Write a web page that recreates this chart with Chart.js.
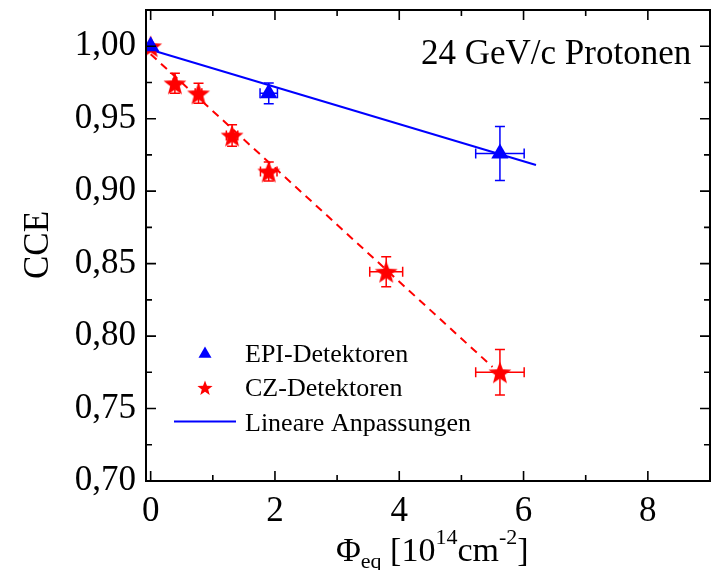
<!DOCTYPE html>
<html>
<head>
<meta charset="utf-8">
<script src="https://cdn.jsdelivr.net/npm/chart.js@4/dist/chart.umd.min.js"></script>
<style>
  html, body { margin: 0; padding: 0; background: #fff; overflow: hidden; }
</style>
</head>
<body>
<canvas id="chart" width="720" height="570"></canvas>
<script>
// values
const epiFluence = [0, 1.9, 5.62];
const epiCCE = [1.000, 0.9675, 0.926];
const epiFluenceErr = [0, 0.14, 0.39];
const epiCCEErr = [0, 0.0072, 0.0186];

const czFluence = [0, 0.39, 0.77, 1.31, 1.9, 3.79, 5.62];
const czCCE = [1.000, 0.9744, 0.9675, 0.9384, 0.9136, 0.8444, 0.775];
const czFluenceErr = [0, 0.027, 0.054, 0.092, 0.133, 0.265, 0.39];
const czCCEErr = [0, 0.0069, 0.0069, 0.0075, 0.0066, 0.0103, 0.0157];

const epiFitX = [0, 6.2];
const epiFitY = [0.9976, 0.918];
const czFitX = [0, 5.5];
const czFitY = [0.9945, 0.7787];

const xTicks = [0, 2, 4, 6, 8];
const xMinorTicks = [1, 3, 5, 7];
const yTicks = [0.70, 0.75, 0.80, 0.85, 0.90, 0.95, 1.00];
const yMinorTicks = [0.725, 0.775, 0.825, 0.875, 0.925, 0.975];

const legendLabels = ["EPI-Detektoren", "CZ-Detektoren", "Lineare Anpassungen"];

const FONT = "'Liberation Serif', 'Times New Roman', serif";
const BLUE = "#0000ff";
const RED = "#ff0000";

function toPoints(xs, ys) {
    return xs.map((x, i) => ({ x: x, y: ys[i] }));
}

function starPath(ctx, cx, cy, r) {
    const inner = r * 0.42;
    ctx.beginPath();
    for (let i = 0; i < 10; i++) {
        const rr = i % 2 === 0 ? r : inner;
        const a = -Math.PI / 2 + i * Math.PI / 5;
        const px = cx + Math.cos(a) * rr;
        const py = cy + Math.sin(a) * rr;
        if (i === 0) ctx.moveTo(px, py); else ctx.lineTo(px, py);
    }
    ctx.closePath();
}

function makeStar(r) {
    const c = document.createElement("canvas");
    c.width = Math.ceil(r * 2 + 2);
    c.height = Math.ceil(r * 2 + 2);
    const g = c.getContext("2d");
    g.fillStyle = RED;
    starPath(g, c.width / 2, c.height / 2 + r * 0.1, r);
    g.fill();
    return c;
}

const starImg = makeStar(12);

function drawErrors(ctx, chart, xs, ys, xe, ye, color) {
    const sx = chart.scales.x, sy = chart.scales.y;
    ctx.strokeStyle = color;
    ctx.lineWidth = 1.5;
    const cap = 5;
    xs.forEach((x, i) => {
        const px = sx.getPixelForValue(x);
        const py = sy.getPixelForValue(ys[i]);
        if (ye[i] > 0) {
            const t = sy.getPixelForValue(ys[i] + ye[i]);
            const b = sy.getPixelForValue(ys[i] - ye[i]);
            ctx.beginPath();
            ctx.moveTo(px, t); ctx.lineTo(px, b);
            ctx.moveTo(px - cap, t); ctx.lineTo(px + cap, t);
            ctx.moveTo(px - cap, b); ctx.lineTo(px + cap, b);
            ctx.stroke();
        }
        if (xe[i] > 0) {
            const l = sx.getPixelForValue(x - xe[i]);
            const r = sx.getPixelForValue(x + xe[i]);
            ctx.beginPath();
            ctx.moveTo(l, py); ctx.lineTo(r, py);
            ctx.moveTo(l, py - cap); ctx.lineTo(l, py + cap);
            ctx.moveTo(r, py - cap); ctx.lineTo(r, py + cap);
            ctx.stroke();
        }
    });
}

const decor = {
    id: "decor",
    beforeDatasetsDraw(chart) {
        const ctx = chart.ctx;
        const a = chart.chartArea;
        ctx.save();
        ctx.beginPath();
        ctx.rect(a.left, a.top, a.right - a.left, a.bottom - a.top);
        ctx.clip();
        drawErrors(ctx, chart, czFluence, czCCE, czFluenceErr, czCCEErr, RED);
        drawErrors(ctx, chart, epiFluence, epiCCE, epiFluenceErr, epiCCEErr, BLUE);
        ctx.restore();
    },
    afterDatasetsDraw(chart) {
        const ctx = chart.ctx;
        const a = chart.chartArea;
        const sx = chart.scales.x, sy = chart.scales.y;
        ctx.save();

        // frame
        ctx.strokeStyle = "#000";
        ctx.lineWidth = 2;
        ctx.strokeRect(a.left, a.top, a.right - a.left, a.bottom - a.top);

        // inward ticks on all sides
        ctx.lineWidth = 1.6;
        ctx.beginPath();
        const xt = (vals, len) => vals.forEach(v => {
            const p = sx.getPixelForValue(v);
            ctx.moveTo(p, a.bottom); ctx.lineTo(p, a.bottom - len);
            ctx.moveTo(p, a.top); ctx.lineTo(p, a.top + len);
        });
        const yt = (vals, len) => vals.forEach(v => {
            const p = sy.getPixelForValue(v);
            ctx.moveTo(a.left, p); ctx.lineTo(a.left + len, p);
            ctx.moveTo(a.right, p); ctx.lineTo(a.right - len, p);
        });
        xt(xTicks, 10); xt(xMinorTicks, 6);
        yt(yTicks, 10); yt(yMinorTicks, 6);
        ctx.stroke();

        // annotation
        ctx.fillStyle = "#000";
        ctx.textAlign = "left";
        ctx.textBaseline = "alphabetic";
        ctx.font = "35px " + FONT;
        ctx.fillText("24 GeV/c Protonen", 421, 64);

        // y title
        ctx.save();
        ctx.translate(48, 245);
        ctx.rotate(-Math.PI / 2);
        ctx.textAlign = "center";
        ctx.font = "35px " + FONT;
        ctx.fillText("CCE", 0, 0);
        ctx.restore();

        // x title with sub/superscripts
        const parts = [
            ["\u03A6", 34, 0],
            ["eq", 22, 7],
            [" [10", 34, 0],
            ["14", 22, -17],
            ["cm", 34, 0],
            ["-2", 22, -17],
            ["]", 34, 0]
        ];
        let tx = 336;
        const base = 561;
        parts.forEach(p => {
            ctx.font = p[1] + "px " + FONT;
            ctx.fillText(p[0], tx, base + p[2]);
            tx += ctx.measureText(p[0]).width;
        });

        // legend
        const lx = 205;
        const rows = [361.5, 396, 430.5];
        ctx.font = "26px " + FONT;
        ctx.fillStyle = "#000";
        legendLabels.forEach((t, i) => ctx.fillText(t, 245, rows[i]));

        ctx.fillStyle = BLUE;
        const tr = 7.5, ty = 354;
        ctx.beginPath();
        ctx.moveTo(lx, ty - tr);
        ctx.lineTo(lx + tr * 0.866, ty + tr / 2);
        ctx.lineTo(lx - tr * 0.866, ty + tr / 2);
        ctx.closePath();
        ctx.fill();

        ctx.fillStyle = RED;
        starPath(ctx, lx, 388.5, 8);
        ctx.fill();

        ctx.strokeStyle = BLUE;
        ctx.lineWidth = 2;
        ctx.beginPath();
        ctx.moveTo(174, 421.5);
        ctx.lineTo(236, 421.5);
        ctx.stroke();

        ctx.restore();
    }
};

const tickFont = { family: FONT, size: 35 };

new Chart(document.getElementById("chart"), {
    type: "scatter",
    data: {
        datasets: [
            {
                label: legendLabels[0],
                data: toPoints(epiFluence, epiCCE),
                pointStyle: "triangle",
                pointRadius: 10,
                pointBackgroundColor: BLUE,
                pointBorderWidth: 0,
                clip: 0
            },
            {
                label: legendLabels[1],
                data: toPoints(czFluence, czCCE),
                pointStyle: starImg,
                clip: 0
            },
            {
                label: legendLabels[2],
                data: toPoints(epiFitX, epiFitY),
                showLine: true,
                borderColor: BLUE,
                borderWidth: 2,
                pointRadius: 0,
                clip: 0
            },
            {
                label: "CZ Anpassung",
                data: toPoints(czFitX, czFitY),
                showLine: true,
                borderColor: RED,
                borderWidth: 2,
                borderDash: [8, 6],
                pointRadius: 0,
                clip: 0
            }
        ]
    },
    options: {
        responsive: false,
        animation: false,
        layout: { padding: { top: 8, right: 2, left: 0, bottom: 0 } },
        plugins: { legend: { display: false }, tooltip: { enabled: false } },
        scales: {
            x: {
                type: "linear",
                min: -0.075,
                max: 9,
                grid: { display: false, drawTicks: false },
                border: { display: false },
                afterBuildTicks: s => { s.ticks = xTicks.map(v => ({ value: v })); },
                afterFit: s => { s.height = 89; s.paddingLeft = 0; s.paddingRight = 0; },
                ticks: {
                    font: tickFont,
                    color: "#000",
                    padding: 10,
                    autoSkip: false,
                    maxRotation: 0,
                    callback: v => String(v)
                }
            },
            y: {
                type: "linear",
                min: 0.7,
                max: 1.025,
                grid: { display: false, drawTicks: false },
                border: { display: false },
                afterBuildTicks: s => { s.ticks = yTicks.map(v => ({ value: v })); },
                afterFit: s => { s.width = 146; s.paddingTop = 0; s.paddingBottom = 0; },
                ticks: {
                    font: tickFont,
                    color: "#000",
                    padding: 10,
                    autoSkip: false,
                    callback: v => v.toFixed(2).replace(".", ",")
                }
            }
        }
    },
    plugins: [decor]
});
</script>
</body>
</html>
